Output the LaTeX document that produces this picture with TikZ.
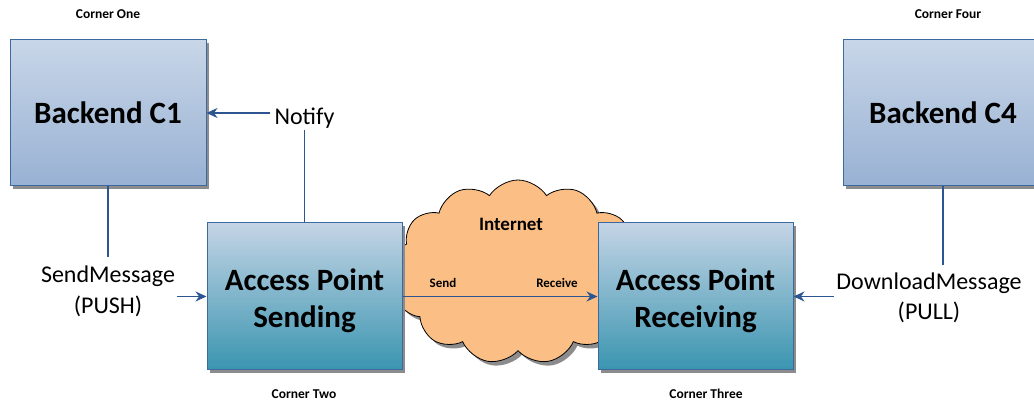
\documentclass[tikz,border=0pt]{standalone}
\usepackage{fontspec}
\setmainfont{Carlito}
\usetikzlibrary{arrows.meta,shapes.symbols,shadows}
\definecolor{bdr}{HTML}{3D6A9E}
\definecolor{arrowc}{HTML}{2C5592}
\definecolor{btop}{HTML}{C8D6E8}
\definecolor{bbot}{HTML}{98B1D3}
\definecolor{atop}{HTML}{C4D4E5}
\definecolor{abot}{HTML}{3A95B0}
\definecolor{cloudc}{HTML}{FBBF85}
\newcommand{\twolines}[3]{\raisebox{#3}[\height][\depth]{\begin{tabular}{@{}c@{}}#1\\#2\end{tabular}}}
\tikzset{
  shadowed/.style={drop shadow={shadow xshift=3pt,shadow yshift=-3pt,fill=black!45,opacity=1}},
  backend/.style={draw=bdr,line width=1pt,top color=btop,bottom color=bbot,shadowed,
    minimum width=196pt,minimum height=146pt,font=\fontsize{31}{36}\selectfont\bfseries,align=center},
  apbox/.style={draw=bdr,line width=1pt,top color=atop,bottom color=abot,shadowed,
    minimum width=195pt,minimum height=147pt,font=\fontsize{31}{37}\selectfont\bfseries,align=center},
  corner/.style={font=\fontsize{13.5}{15}\selectfont\bfseries},
  lbl/.style={font=\fontsize{24}{30}\selectfont,align=center,inner sep=2pt},
  small/.style={font=\fontsize{13}{15}\selectfont\bfseries},
  arr/.style={draw=arrowc,line width=1.8pt,-{Stealth[length=11pt,width=10pt]}},
  ln/.style={draw=arrowc,line width=1.8pt}
}
\begin{document}
\begin{tikzpicture}[x=1pt,y=-1pt]
\useasboundingbox (0,0) rectangle (1034,403);
% cloud
\node[cloud,cloud puffs=13,cloud puff arc=115,aspect=1.35,draw=black,line width=0.8pt,fill=cloudc,
  minimum width=252pt,minimum height=184pt,
  drop shadow={shadow xshift=4pt,shadow yshift=-4pt,fill=black!45,opacity=1}] (cloud) at (518,272) {};
\node[font=\fontsize{19}{22}\selectfont\bfseries] (inet) at (511,224) {Internet};
% boxes
\node[backend] (b1) at (108,113) {Backend C1};
\node[backend,minimum width=200pt] (b4) at (943,113) {Backend C4};
\node[apbox] (aps) at (304.5,296.5) {\twolines{Access Point}{Sending}{-5pt}};
\node[apbox] (apr) at (695.5,296.5) {\twolines{Access Point}{Receiving}{-5pt}};
% corner labels
\node[corner] (c1) at (108,14) {Corner One};
\node[corner] (c4) at (948,14) {Corner Four};
\node[corner] (c2) at (304,394) {Corner Two};
\node[corner] (c3) at (706,394) {Corner Three};
% labels
\node[lbl,font=\fontsize{24}{31}\selectfont] (sm) at (108,290) {\twolines{SendMessage}{(PUSH)}{-2pt}};
\node[lbl] (notify) at (304.5,118) {Notify};
\node[lbl] (dm) at (929,297) {\twolines{DownloadMessage}{(PULL)}{-2pt}};
\node[small] (send) at (443,283) {Send};
\node[small] (recv) at (557,283) {Receive};
% connectors
\draw[ln] (aps.north) -- (notify.south);
\draw[arr] (notify.west |- b1.east) ++(-2,0) -- (b1.east);
\draw[ln] (b1.south) -- (sm.north);
\draw[arr] (sm.east |- aps.west) -- (aps.west);
\draw[arr] (aps.east) -- (apr.west);
\draw[ln] (b4.south) -- (b4.south |- dm.north);
\draw[arr] (dm.west |- apr.east) -- (apr.east);
\end{tikzpicture}
\end{document}
